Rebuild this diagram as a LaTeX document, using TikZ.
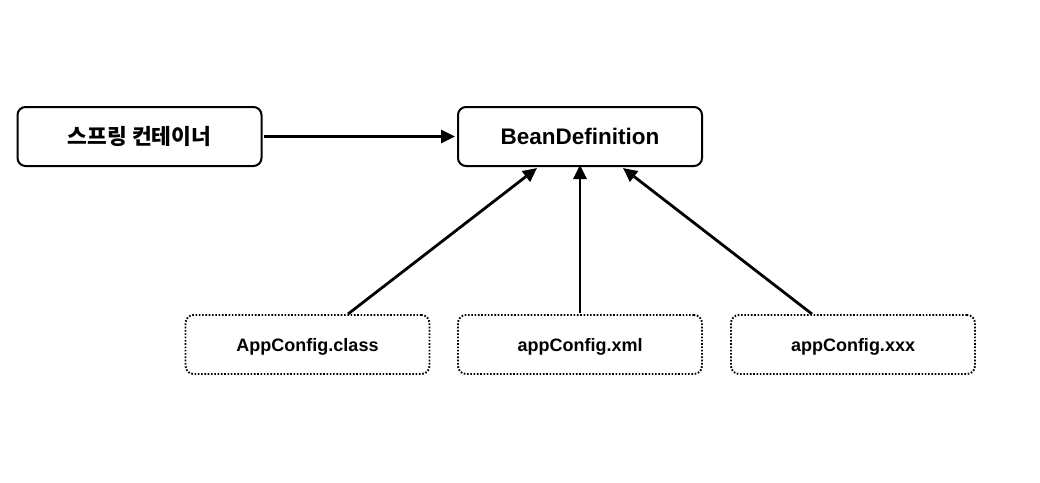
\documentclass[tikz,border=0pt]{standalone}
\usepackage{fontspec}
\setmainfont{Liberation Sans}
\newfontfamily\krfont{Noto Sans CJK KR}
\usetikzlibrary{arrows.meta}
\begin{document}
\begin{tikzpicture}[x=1pt,y=-1pt,
  solidbox/.style={draw,line width=2pt,rounded corners=8pt,minimum width=244pt,minimum height=59pt,inner sep=0pt},
  dotbox/.style={draw,line width=1.9pt,dash pattern=on 1.6pt off 1.7pt,rounded corners=8pt,minimum width=244pt,minimum height=59pt,inner sep=0pt,
    font=\fontsize{18}{20}\selectfont\bfseries,text height=17pt,text depth=3pt},
  conn/.style={line width=2.8pt,-{Triangle[length=14pt,width=13pt]}}]
\useasboundingbox (0,0) rectangle (1040,482);
\node[solidbox] (sc) at (139.5,136.5) {\krfont\bfseries\fontsize{21.5}{24}\selectfont 스프링 컨테이너};
\node[solidbox] (bd) at (580,136.5) {\fontsize{22.5}{26}\selectfont\bfseries BeanDefinition};
\node[dotbox] (ac) at (307.5,344.5) {AppConfig.class};
\node[dotbox] (ax) at (580,344.5) {appConfig.xml};
\node[dotbox] (ay) at (853,344.5) {appConfig.xxx};
\coordinate (acs) at (348,314);
\coordinate (bd1) at (537,168);
\coordinate (bd3) at (623,168);
\coordinate (ays) at (812,314);
\draw[conn] (sc.east) ++(1,0) -- ([xshift=-2pt]bd.west);
\draw[conn] (acs) -- (bd1);
\draw[conn] (ax.north) ++(0,-1) -- ([yshift=2pt]bd.south);
\draw[conn] (ays) -- (bd3);
\end{tikzpicture}
\end{document}
